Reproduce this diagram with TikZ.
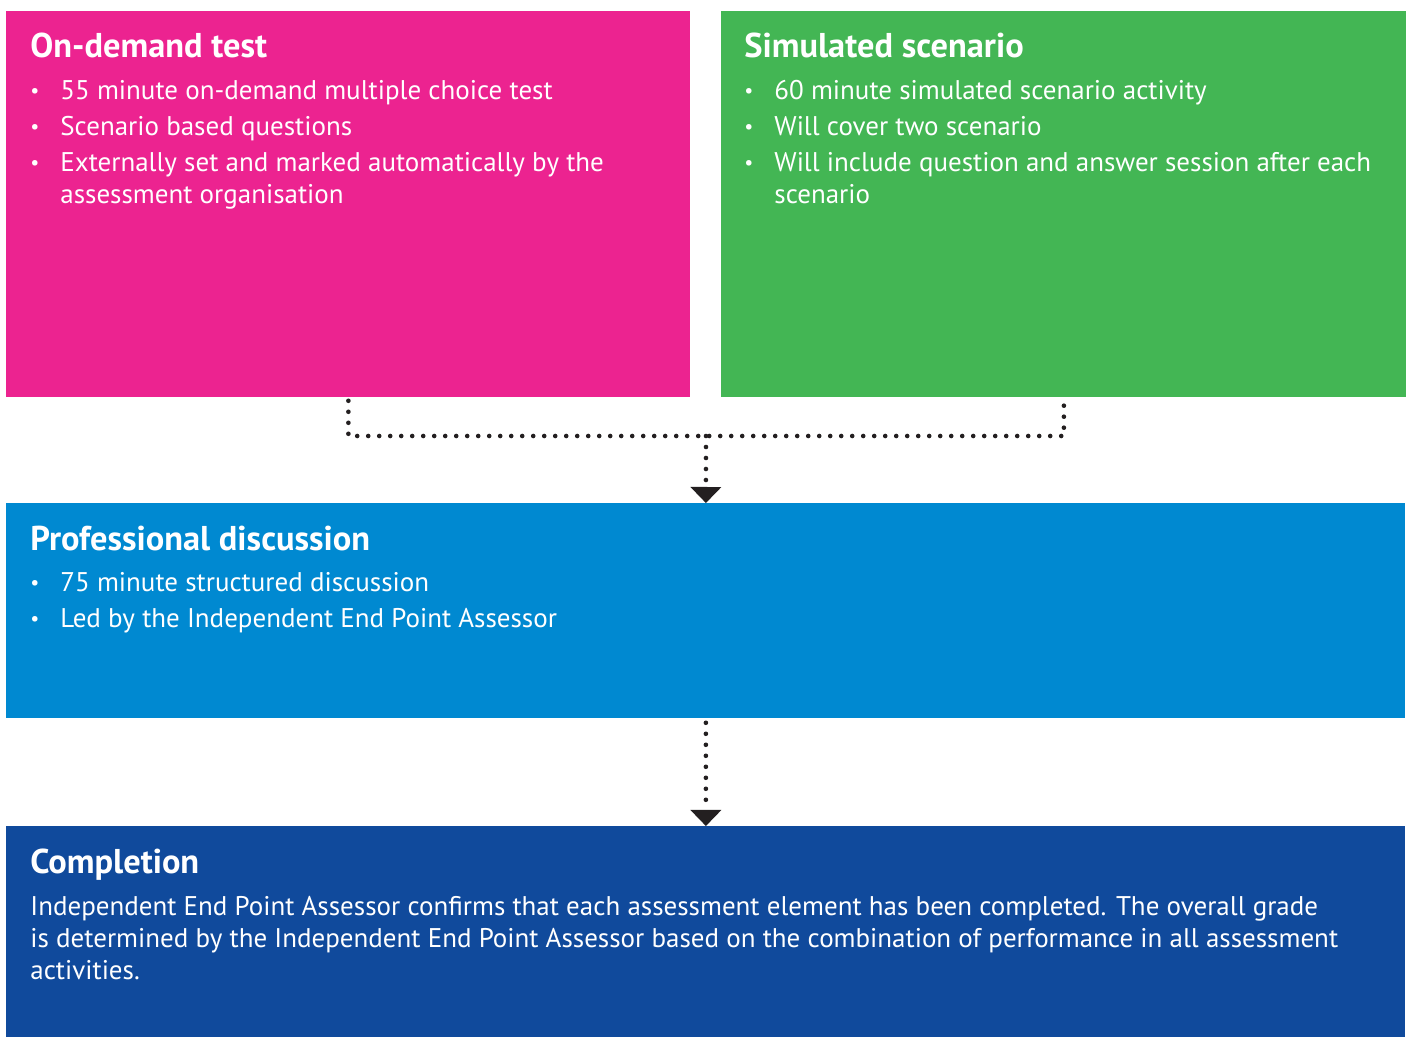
\documentclass[tikz,border=0pt]{standalone}
\usepackage{fontspec}
\setmainfont{PT Sans}
\usetikzlibrary{arrows.meta, positioning}
\definecolor{testpink}{HTML}{EC2390}
\definecolor{simgreen}{HTML}{43B654}
\definecolor{discblue}{HTML}{0089D1}
\definecolor{donenavy}{HTML}{104A9C}
\definecolor{flowdot}{HTML}{231F20}
\newcommand{\stagehead}[1]{{\fontsize{17.2}{20}\selectfont\bfseries #1}}
\newcommand{\bul}{\makebox[15pt][l]{\raisebox{1pt}{\fontsize{10}{10}\selectfont\textbullet}}}
\tikzstyle{stage} = [rectangle, anchor=north west, inner sep=0pt, draw=none]
\tikzstyle{stagetext} = [anchor=north west, inner sep=0pt, align=left, text=white, font=\fontsize{13.5}{16}\selectfont]
\tikzstyle{flow} = [draw=flowdot, line width=2.3pt, line cap=round, dash pattern=on 0pt off 5.5pt]
\tikzstyle{flowtip} = [-{Triangle[width=15.5pt, length=8pt, line width=0pt, fill=flowdot]}]

\begin{document}
\begin{tikzpicture}[x=0.5pt, y=-0.5pt]
    \useasboundingbox (0,0) rectangle (1410,1037);

    % Boxes
    \node [stage, fill=testpink, minimum width=342pt, minimum height=193pt] (test) at (6,11) {};
    \node [stage, fill=simgreen, minimum width=342.5pt, minimum height=193pt] (sim) at (721,11) {};
    \node [stage, fill=discblue, minimum width=699.5pt, minimum height=107.5pt] (disc) at (6,503) {};
    \node [stage, fill=donenavy, minimum width=699.5pt, minimum height=105.5pt] (done) at (6,826) {};

    % Texts
    \node [stagetext] (test-txt) at (30,33) {\stagehead{On-demand test}\\[5pt]
        \bul 55 minute on-demand multiple choice test\\[2pt]
        \bul Scenario based questions\\[2pt]
        \bul Externally set and marked automatically by the\\
        \hspace*{15pt}assessment organisation};
    \node [stagetext] (sim-txt) at (744,33) {\stagehead{Simulated scenario}\\[5pt]
        \bul 60 minute simulated scenario activity\\[2pt]
        \bul Will cover two scenario\\[2pt]
        \bul Will include question and answer session after each\\
        \hspace*{15pt}scenario};
    \node [stagetext] (disc-txt) at (30,526) {\stagehead{Professional discussion}\\[4.5pt]
        \bul 75 minute structured discussion\\[2pt]
        \bul Led by the Independent End Point Assessor};
    \node [stagetext] (done-txt) at (30,849) {\stagehead{Completion}\\[5pt]
        Independent End Point Assessor confirms that each assessment element has been completed. The overall grade\\
        is determined by the Independent End Point Assessor based on the combination of performance in all assessment\\
        activities.};

    % Arrows
    \coordinate (join) at (706,436);
    \path [flow] ([yshift=-1.5pt]test.south) |- (join) -| ([yshift=-1.5pt]sim.south);
    \path [flow, flowtip] (join) -- (disc.north);
    \path [flow, flowtip] ([yshift=-2pt]disc.south) -- (done.north);
\end{tikzpicture}
\end{document}
